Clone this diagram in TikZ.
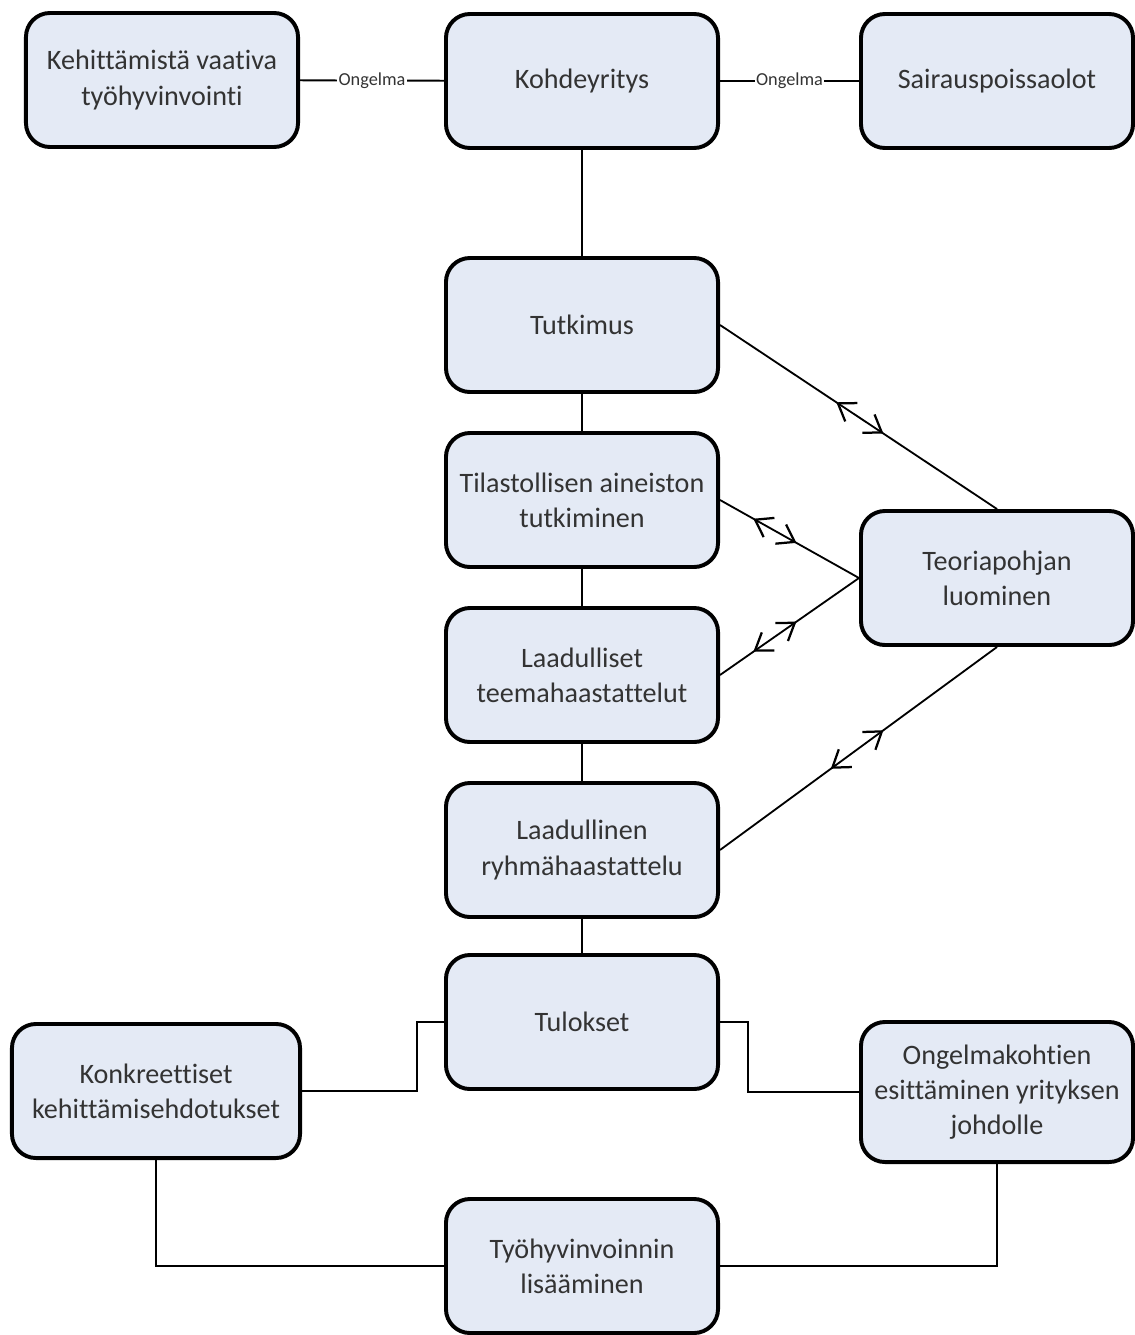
\documentclass[tikz,border=0pt]{standalone}
\usepackage{fontspec}
\setmainfont{Carlito}[Ligatures=NoCommon]
\usetikzlibrary{arrows.meta,decorations.markings}
\definecolor{boxfill}{HTML}{E4EAF5}
\definecolor{boxtext}{HTML}{333333}
\tikzset{
  box/.style={draw, line width=2.8pt, rounded corners=0.6cm, fill=boxfill,
    text=boxtext, align=center, minimum width=6.8cm, minimum height=3.35cm,
    font=\fontsize{20}{25}\selectfont},
  link/.style={line width=1.3pt},
  twoway/.style 2 args={link, postaction={decorate}, decoration={markings,
    mark=at position #1 with {\arrowreversed[line width=1.6pt]{Straight Barb[length=4mm,width=5.5mm]}},
    mark=at position #2 with {\arrow[line width=1.6pt]{Straight Barb[length=4mm,width=5.5mm]}}}},
  tag/.style={fill=white, inner sep=1pt, text=boxtext, font=\fontsize{13}{15}\selectfont}
}
\begin{document}
\begin{tikzpicture}[x=0.025cm, y=-0.025cm]
  \useasboundingbox (0,0) rectangle (1135,1335);
  % top row
  \node[box] (kehitys) at (162,80) {Kehittämistä vaativa\\työhyvinvointi};
  \node[box] (kohde) at (582,81) {Kohdeyritys};
  \node[box] (sairaus) at (997,81) {Sairauspoissaolot};
  % middle column
  \node[box] (tutkimus) at (582,325) {Tutkimus};
  \node[box] (tilasto) at (582,500) {Tilastollisen aineiston\\tutkiminen};
  \node[box] (teema) at (582,675) {Laadulliset\\teemahaastattelut};
  \node[box] (ryhma) at (582,850) {Laadullinen\\ryhmähaastattelu};
  \node[box] (tulokset) at (582,1022) {Tulokset};
  \node[box] (teoria) at (997,578) {Teoriapohjan\\luominen};
  % bottom
  \node[box, minimum width=7.2cm] (ehdotus) at (156,1091) {Konkreettiset\\kehittämisehdotukset};
  \node[box, minimum height=3.5cm] (johto) at (997,1092) {Ongelmakohtien\\esittäminen yrityksen\\johdolle};
  \node[box] (lisays) at (582,1266) {Työhyvinvoinnin\\lisääminen};

  \draw[link] (kehitys) -- node[tag]{Ongelma} (kohde);
  \draw[link] (kohde) -- node[tag]{Ongelma} (sairaus);
  \draw[link] (kohde) -- (tutkimus) -- (tilasto) -- (teema) -- (ryhma) -- (tulokset);

  \draw[twoway={0.42}{0.59}] (tutkimus.east) -- (teoria.north);
  \draw[twoway={0.24}{0.55}] (tilasto.east) -- (teoria.west);
  \draw[twoway={0.24}{0.55}] (teema.east) -- (teoria.west);
  \draw[twoway={0.40}{0.59}] (ryhma.east) -- (teoria.south);

  \draw[link] (tulokset.west) -- ++(-27,0) |- (ehdotus.east);
  \draw[link] (tulokset.east) -- ++(28,0) |- (johto.west);
  \draw[link] (ehdotus.south) |- (lisays.west);
  \draw[link] (johto.south) |- (lisays.east);
\end{tikzpicture}
\end{document}
